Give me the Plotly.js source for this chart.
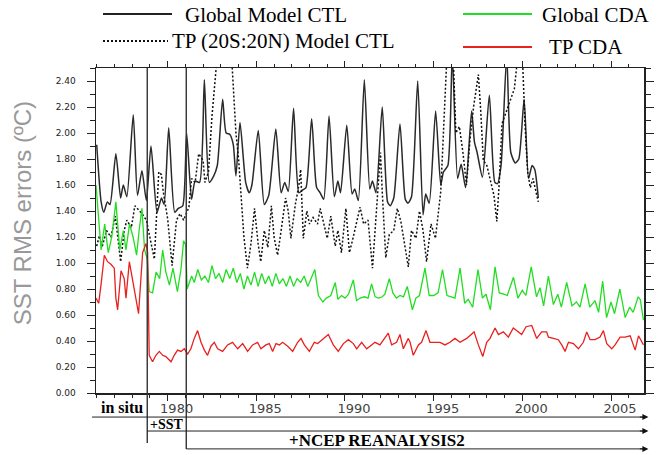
<!DOCTYPE html>
<html>
<head>
<meta charset="utf-8">
<script src="https://cdn.plot.ly/plotly-3.0.1.min.js"></script>
<style>html,body{margin:0;padding:0;background:#fff;}#chart{width:659px;height:455px;}</style>
</head>
<body>
<div id="chart"></div>
<script>
// ---- data ----
const xTickYears = [1980, 1985, 1990, 1995, 2000, 2005];
const xTickText = ["1980", "1985", "1990", "1995", "2000", "2005"];
const yTickVals = [0, 0.2, 0.4, 0.6, 0.8, 1.0, 1.2, 1.4, 1.6, 1.8, 2.0, 2.2, 2.4];
const yTickText = ["0.00","0.20","0.40","0.60","0.80","1.00","1.20","1.40","1.60","1.80","2.00","2.20","2.40"];

const globalCtlYear = [1976.00,1976.25,1976.40,1976.60,1976.75,1977.08,1977.35,1977.50,1977.70,1978.06,1978.30,1978.55,1978.80,1979.06,1979.40,1979.65,1979.80,1980.06,1980.40,1980.60,1980.85,1981.07,1981.35,1981.55,1981.80,1982.07,1982.35,1982.60,1982.80,1983.10,1983.30,1983.50,1983.70,1983.85,1984.08,1984.40,1984.60,1984.75,1985.11,1985.45,1985.70,1986.10,1986.40,1986.60,1986.80,1987.10,1987.40,1987.60,1987.80,1988.12,1988.40,1988.60,1988.80,1989.10,1989.40,1989.60,1989.75,1990.10,1990.40,1990.55,1990.75,1991.09,1991.40,1991.55,1991.75,1992.10,1992.40,1992.55,1992.75,1993.10,1993.40,1993.55,1993.75,1994.10,1994.40,1994.55,1994.75,1995.11,1995.40,1995.55,1995.80,1996.05,1996.35,1996.55,1996.80,1997.14,1997.30,1997.45,1997.75,1998.14,1998.45,1998.60,1998.80,1999.12,1999.35,1999.60,1999.80,2000.10,2000.35,2000.55,2000.70,2000.90];
const globalCtlRms = [1.91,1.47,1.39,1.47,1.45,1.84,1.50,1.60,1.51,2.14,1.52,1.71,1.48,1.90,1.39,1.50,1.45,2.04,1.39,1.42,1.44,2.00,1.49,1.63,1.62,2.41,1.62,1.67,1.75,2.26,2.00,1.99,1.91,1.67,2.08,1.62,1.54,1.60,2.02,1.45,1.52,2.03,1.54,1.62,1.55,2.19,1.54,1.56,1.58,2.11,1.58,1.54,1.49,2.13,1.51,1.63,1.54,2.06,1.53,1.57,1.48,2.41,1.57,1.63,1.54,2.20,1.47,1.44,1.50,2.07,1.49,1.46,1.51,2.40,1.37,1.53,1.46,2.17,1.60,1.70,1.75,2.60,1.65,1.76,1.58,2.17,1.93,1.85,1.66,2.29,1.62,1.61,1.75,2.60,1.85,1.77,1.80,2.26,1.65,1.75,1.72,1.50];

const tpCtlYear = [1976.00,1976.15,1976.30,1976.55,1976.80,1977.05,1977.35,1977.55,1977.70,1977.95,1978.15,1978.35,1978.55,1978.80,1979.00,1979.25,1979.50,1979.65,1979.75,1980.00,1980.25,1980.50,1980.70,1980.90,1981.20,1981.35,1981.55,1981.75,1982.00,1982.10,1982.30,1982.50,1982.80,1983.60,1983.85,1984.00,1984.15,1984.30,1984.50,1984.70,1984.90,1985.10,1985.25,1985.45,1985.65,1985.85,1986.00,1986.20,1986.45,1986.65,1986.80,1986.95,1987.20,1987.40,1987.50,1987.65,1987.85,1988.00,1988.20,1988.45,1988.60,1988.80,1989.00,1989.20,1989.45,1989.60,1989.80,1990.05,1990.25,1990.45,1990.65,1990.85,1991.05,1991.30,1991.55,1991.80,1992.00,1992.10,1992.30,1992.50,1992.75,1992.95,1993.15,1993.57,1993.75,1994.00,1994.20,1994.40,1994.60,1994.85,1995.10,1995.40,1995.60,1995.75,1996.10,1996.25,1996.45,1996.65,1996.85,1997.05,1997.25,1997.52,1997.65,1997.80,1998.00,1998.40,1998.56,1998.70,1998.85,1999.10,1999.35,1999.55,1999.75,2000.00,2000.15,2000.30,2000.45,2000.60,2000.90];
const tpCtlRms = [1.13,1.21,1.12,1.25,1.20,1.36,1.01,1.25,1.33,1.27,1.44,1.41,1.38,1.33,1.19,1.03,1.70,1.68,1.55,1.34,0.98,1.33,1.38,1.33,1.43,1.65,1.62,1.84,1.79,1.62,1.70,2.13,2.60,2.60,2.00,1.80,1.50,1.20,0.96,1.15,1.42,1.15,1.01,1.25,1.12,1.44,1.20,1.06,1.30,1.50,1.40,1.19,1.45,1.60,1.72,1.19,1.40,1.30,1.35,1.30,1.42,1.30,1.19,1.36,1.13,1.25,1.08,1.42,1.08,1.19,1.31,1.43,1.30,1.33,0.96,1.50,1.85,1.55,1.04,1.22,1.25,1.42,1.32,0.97,1.25,1.19,1.40,1.25,1.01,1.30,1.19,1.55,2.08,2.60,2.60,2.00,2.05,1.85,1.60,1.95,2.20,2.45,2.18,1.79,1.75,1.52,1.32,1.62,2.07,2.17,2.26,2.34,2.60,2.60,2.07,1.70,1.58,1.65,1.47];

const globalCdaYear = [1975.96,1976.10,1976.25,1976.45,1976.65,1976.85,1977.08,1977.30,1977.50,1977.65,1977.85,1978.05,1978.25,1978.40,1978.55,1978.70,1978.85,1978.96,1979.15,1979.35,1979.55,1979.72,1979.90,1980.10,1980.30,1980.55,1980.75,1980.90,1981.02,1981.10,1981.35,1981.50,1981.70,1981.90,1982.10,1982.30,1982.50,1982.70,1982.90,1983.10,1983.30,1983.50,1983.70,1983.90,1984.10,1984.30,1984.50,1984.70,1984.90,1985.10,1985.30,1985.50,1985.70,1985.90,1986.10,1986.30,1986.50,1986.70,1986.90,1987.10,1987.30,1987.50,1987.70,1987.90,1988.10,1988.30,1988.50,1988.75,1988.95,1989.20,1989.45,1989.60,1989.80,1990.00,1990.20,1990.47,1990.65,1990.85,1991.10,1991.30,1991.50,1991.70,1991.90,1992.10,1992.25,1992.50,1992.70,1992.90,1993.10,1993.30,1993.51,1993.80,1994.00,1994.20,1994.51,1994.75,1995.00,1995.25,1995.50,1995.75,1996.00,1996.20,1996.49,1996.75,1996.95,1997.20,1997.50,1997.75,1997.95,1998.20,1998.46,1998.70,1998.95,1999.15,1999.50,1999.75,2000.00,2000.20,2000.50,2000.80,2001.00,2001.20,2001.47,2001.75,2002.00,2002.20,2002.50,2002.80,2003.05,2003.25,2003.54,2003.80,2004.10,2004.30,2004.53,2004.75,2005.00,2005.20,2005.50,2005.80,2006.05,2006.25,2006.53,2006.65,2006.83];
const globalCdaRms = [1.60,1.36,1.10,1.30,1.08,1.20,1.47,1.10,1.25,1.10,1.30,1.20,1.06,1.26,1.42,1.10,1.03,0.78,0.77,0.93,0.88,1.10,0.93,0.83,0.96,0.78,0.95,1.17,1.14,0.80,0.90,0.85,0.95,0.87,0.90,0.85,0.98,0.88,0.92,0.85,0.95,0.88,0.96,0.85,0.92,0.80,0.90,0.83,0.93,0.82,0.92,0.84,0.90,0.82,0.92,0.84,0.88,0.82,0.90,0.82,0.88,0.85,0.90,0.82,0.88,0.95,0.75,0.70,0.73,0.75,0.85,0.72,0.75,0.73,0.76,0.87,0.71,0.73,0.74,0.73,0.84,0.74,0.73,0.74,0.76,0.88,0.77,0.73,0.75,0.74,0.82,0.64,0.73,0.75,0.96,0.75,0.75,0.77,0.95,0.75,0.74,0.73,0.96,0.69,0.72,0.66,0.95,0.73,0.76,0.64,0.97,0.77,0.76,0.75,0.89,0.73,0.79,0.75,0.97,0.74,0.81,0.67,0.90,0.68,0.76,0.66,0.85,0.67,0.70,0.66,0.84,0.66,0.71,0.62,0.86,0.58,0.70,0.61,0.80,0.58,0.66,0.62,0.74,0.72,0.56];

const tpCdaYear = [1975.96,1976.11,1976.24,1976.43,1976.61,1976.80,1976.99,1977.08,1977.18,1977.37,1977.55,1977.65,1977.84,1978.02,1978.21,1978.36,1978.59,1978.78,1978.87,1978.96,1979.15,1979.34,1979.53,1979.72,1979.90,1980.19,1980.37,1980.56,1980.75,1980.94,1981.13,1981.31,1981.50,1981.69,1981.88,1982.07,1982.25,1982.44,1982.63,1982.82,1983.10,1983.38,1983.66,1983.95,1984.23,1984.51,1984.79,1985.07,1985.26,1985.54,1985.73,1985.92,1986.11,1986.30,1986.48,1986.77,1987.05,1987.33,1987.52,1987.71,1987.99,1988.27,1988.46,1988.78,1989.06,1989.34,1989.62,1989.91,1990.19,1990.47,1990.66,1990.94,1991.22,1991.50,1991.69,1991.97,1992.26,1992.44,1992.63,1992.91,1993.10,1993.29,1993.57,1993.67,1993.85,1994.14,1994.32,1994.57,1994.79,1995.08,1995.36,1995.64,1995.92,1996.20,1996.49,1996.86,1997.14,1997.28,1997.52,1997.77,1997.99,1998.18,1998.46,1998.65,1998.93,1999.21,1999.49,1999.78,1999.96,2000.21,2000.53,2000.81,2001.09,2001.37,2001.47,2001.75,2002.03,2002.22,2002.41,2002.60,2002.88,2003.16,2003.44,2003.63,2003.82,2004.10,2004.38,2004.57,2004.76,2005.04,2005.23,2005.51,2005.79,2006.08,2006.36,2006.55,2006.83];
const tpCdaRms = [0.73,0.69,0.83,1.06,1.01,0.99,0.96,0.73,0.64,0.94,0.88,0.73,1.01,0.88,0.73,0.61,1.08,1.15,1.08,0.29,0.24,0.29,0.32,0.29,0.28,0.24,0.29,0.33,0.32,0.34,0.30,0.34,0.42,0.48,0.39,0.33,0.29,0.36,0.39,0.34,0.32,0.37,0.39,0.34,0.38,0.32,0.37,0.39,0.34,0.37,0.38,0.32,0.38,0.37,0.39,0.36,0.32,0.39,0.42,0.37,0.32,0.39,0.38,0.42,0.45,0.37,0.32,0.38,0.41,0.38,0.34,0.39,0.34,0.37,0.39,0.37,0.43,0.46,0.37,0.39,0.45,0.34,0.42,0.39,0.29,0.37,0.39,0.48,0.39,0.39,0.39,0.37,0.39,0.42,0.39,0.42,0.45,0.47,0.37,0.28,0.39,0.42,0.50,0.45,0.47,0.43,0.50,0.47,0.45,0.51,0.52,0.42,0.47,0.47,0.43,0.42,0.41,0.37,0.32,0.39,0.38,0.34,0.39,0.47,0.41,0.41,0.43,0.48,0.38,0.34,0.37,0.43,0.43,0.44,0.33,0.44,0.37];

const seriesNames = ["Global Model CTL", "TP (20S:20N) Model CTL", "Global CDA", "TP CDA"];
const periodMarks = [1978.85, 1981.05];
const periodLabels = ["in situ", "+SST", "+NCEP REANALYSIS2"];
const yTitle = "SST RMS errors (ºC)";

// ---- drawing ----
const serif = "Liberation Serif, Times New Roman, serif";
const traces = [
  {x: globalCtlYear, y: globalCtlRms, name: seriesNames[0], mode: "lines",
   line: {color: "#2a2a2a", width: 1.5, shape: "spline", smoothing: 0.6}},
  {x: tpCtlYear, y: tpCtlRms, name: seriesNames[1], mode: "lines",
   line: {color: "#111", width: 1.5, dash: "2px,2px"}},
  {x: globalCdaYear, y: globalCdaRms, name: seriesNames[2], mode: "lines",
   line: {color: "#22dd22", width: 1.3}},
  {x: tpCdaYear, y: tpCdaRms, name: seriesNames[3], mode: "lines",
   line: {color: "#e8201e", width: 1.3}}
];

const shapes = [];
const annotations = [];
const ax = "#222";
function label(opts) {
  annotations.push(Object.assign({showarrow: false, xanchor: "center", yanchor: "middle"}, opts));
}
// vertical period lines
shapes.push({type: "line", xref: "x", yref: "paper", x0: periodMarks[0], x1: periodMarks[0], y0: 1, y1: -0.154, line: {color: "#333", width: 1.4}});
shapes.push({type: "line", xref: "x", yref: "paper", x0: periodMarks[1], x1: periodMarks[1], y0: 1, y1: -0.172, line: {color: "#333", width: 1.4}});
// horizontal period arrows (shafts)
const arrowRows = [-0.074, -0.117, -0.172];
shapes.push({type: "line", xref: "paper", yref: "paper", x0: -0.0073, x1: 1.0, y0: arrowRows[0], y1: arrowRows[0], line: {color: "#222", width: 1}});
shapes.push({type: "line", xref: "x", yref: "paper", x0: periodMarks[0], x1: 2006.86, y0: arrowRows[1], y1: arrowRows[1], line: {color: "#222", width: 1}});
shapes.push({type: "line", xref: "x", yref: "paper", x0: periodMarks[1], x1: 2006.86, y0: arrowRows[2], y1: arrowRows[2], line: {color: "#222", width: 1}});
arrowRows.forEach(r => annotations.push({xref: "paper", yref: "paper", x: 1.008, y: r, ax: -10, ay: 0, axref: "pixel", ayref: "pixel",
  text: "", showarrow: true, arrowhead: 2, arrowsize: 1.2, arrowwidth: 1, arrowcolor: "#111"}));
// period labels
label({xref: "paper", yref: "paper", x: 0.047, y: -0.046, text: "<b>" + periodLabels[0] + "</b>",
  font: {family: serif, size: 16, color: "#000"}});
label({xref: "x", yref: "paper", x: 1979.95, y: -0.097, text: "<b>" + periodLabels[1] + "</b>",
  font: {family: serif, size: 14, color: "#000"}});
label({xref: "x", yref: "paper", x: 1991.8, y: -0.147, text: "<b>" + periodLabels[2] + "</b>",
  font: {family: serif, size: 17, color: "#000"}});
// y-axis title
label({xref: "paper", yref: "paper", x: -0.135, y: 0.553, text: yTitle, textangle: -90,
  font: {family: "Liberation Sans, Arial, sans-serif", size: 24, color: "#999"}});
// custom legend
const leg = [
  {x0: 0.0128, x1: 0.1387, y: 1.166, tx: 0.1588, ty: 1.163, dash: "solid", color: "#222", width: 2},
  {x0: 0.0128, x1: 0.1314, y: 1.083, tx: 0.135, ty: 1.083, dash: "2px,2px", color: "#111", width: 2},
  {x0: 0.6697, x1: 0.7956, y: 1.166, tx: 0.8102, ty: 1.163, dash: "solid", color: "#22dd22", width: 2},
  {x0: 0.6697, x1: 0.7956, y: 1.065, tx: 0.823, ty: 1.065, dash: "solid", color: "#e8201e", width: 2}
];
leg.forEach((L, i) => {
  shapes.push({type: "line", xref: "paper", yref: "paper", x0: L.x0, x1: L.x1, y0: L.y, y1: L.y, line: {color: L.color, width: L.width, dash: L.dash}});
  label({xref: "paper", yref: "paper", x: L.tx, y: L.ty, xanchor: "left", text: seriesNames[i],
    font: {family: serif, size: 21, color: "#000"}});
});

const layout = {
  width: 659, height: 455,
  margin: {l: 96, r: 15, t: 68, b: 62},
  paper_bgcolor: "#fff", plot_bgcolor: "#fff",
  showlegend: false,
  xaxis: {
    range: [1975.96, 2006.86], tickvals: xTickYears, ticktext: xTickText,
    ticks: "outside", ticklen: 6, tickwidth: 1, tickcolor: ax,
    minor: {dtick: 1, tick0: 1976, ticks: "outside", ticklen: 3, tickcolor: ax, tickwidth: 1, showgrid: false},
    showline: true, linecolor: ax, linewidth: 1.5, mirror: "ticks",
    showgrid: false, zeroline: false, ticklabelshift: 9, ticklabelstandoff: -3, automargin: false,
    tickfont: {family: "DejaVu Sans, sans-serif", size: 13, color: "#444"}
  },
  yaxis: {
    range: [0, 2.5], tickvals: yTickVals, ticktext: yTickText,
    ticks: "outside", ticklen: 8, tickwidth: 1, tickcolor: ax,
    minor: {dtick: 0.1, tick0: 0, ticks: "outside", ticklen: 5, tickcolor: ax, tickwidth: 1, showgrid: false},
    showline: true, linecolor: ax, linewidth: 1.5, mirror: "ticks",
    showgrid: false, zeroline: false, ticklabelstandoff: 9, automargin: false,
    tickfont: {family: "DejaVu Sans, sans-serif", size: 9, color: "#222"}
  },
  shapes: shapes,
  annotations: annotations
};

Plotly.newPlot("chart", traces, layout, {staticPlot: true, displayModeBar: false});
</script>
</body>
</html>
